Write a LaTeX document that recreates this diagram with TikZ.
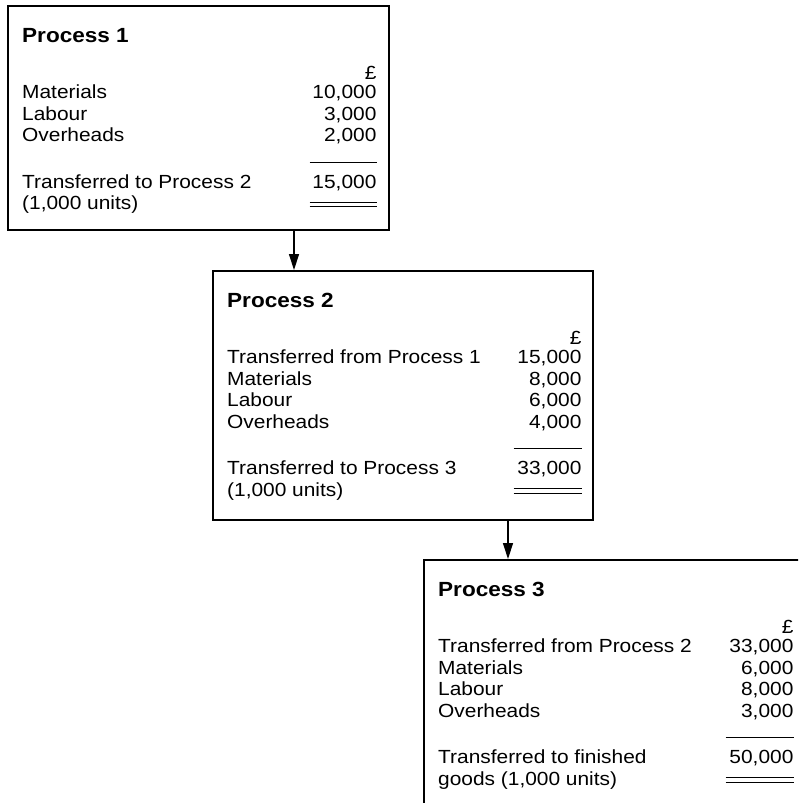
\documentclass[tikz,border=0pt]{standalone}
\usepackage{fontspec}
\setmainfont[FakeStretch=1.1]{Liberation Sans}
\usetikzlibrary{arrows.meta,calc}

\tikzset{
  procbox/.style={draw, line width=1.6pt, anchor=north west, inner sep=0pt},
  item/.style={anchor=base west, inner sep=0pt, font=\fontsize{19}{21}\selectfont},
  head/.style={item, font=\fontsize{20.5}{23}\selectfont\bfseries},
  amt/.style={anchor=base east, inner sep=0pt, font=\fontsize{19}{21}\selectfont},
  sumline/.style={line width=1pt},
  flow/.style={line width=1.3pt, -{Triangle[length=16pt,width=10pt]}}
}

\begin{document}
\begin{tikzpicture}[x=1pt, y=-1pt]
  \clip (0,0) rectangle (798,803);

  % Process 1
  \node[procbox, minimum width=381pt, minimum height=224pt] (p1) at (7,5) {};
  \node[head] (p1t) at ($(p1.north west)+(15,37)$) {Process 1};
  \node[amt] (p1c) at ($(p1.north east)+(-13,74)$) {£};
  \foreach \lab/\val [count=\i] in {Materials/{10,000}, Labour/{3,000}, Overheads/{2,000}} {
    \node[item] (p1r\i) at ($(p1.north west)+(15,72+21.5*\i)$) {\lab};
    \node[amt] (p1v\i) at ($(p1.north east)+(-13,72+21.5*\i)$) {\val};
  }
  \draw[sumline] ($(p1.north east)+(-80,157)$) -- ++(67,0);
  \node[item] (p1o) at ($(p1.north west)+(15,183)$) {Transferred to Process 2};
  \node[amt] (p1s) at ($(p1.north east)+(-13,183)$) {15,000};
  \node[item] (p1u) at ($(p1.north west)+(15,204.5)$) {(1,000 units)};
  \draw[sumline] ($(p1.north east)+(-80,197)$) -- ++(67,0);
  \draw[sumline] ($(p1.north east)+(-80,201.5)$) -- ++(67,0);

  % Process 2
  \node[procbox, minimum width=380pt, minimum height=249pt] (p2) at (212,270) {};
  \node[head] (p2t) at ($(p2.north west)+(15,37)$) {Process 2};
  \node[amt] (p2c) at ($(p2.north east)+(-12,74)$) {£};
  \foreach \lab/\val [count=\i] in {Transferred from Process 1/{15,000}, Materials/{8,000}, Labour/{6,000}, Overheads/{4,000}} {
    \node[item] (p2r\i) at ($(p2.north west)+(15,72+21.5*\i)$) {\lab};
    \node[amt] (p2v\i) at ($(p2.north east)+(-12,72+21.5*\i)$) {\val};
  }
  \draw[sumline] ($(p2.north east)+(-80,178.5)$) -- ++(68,0);
  \node[item] (p2o) at ($(p2.north west)+(15,204.5)$) {Transferred to Process 3};
  \node[amt] (p2s) at ($(p2.north east)+(-12,204.5)$) {33,000};
  \node[item] (p2u) at ($(p2.north west)+(15,226)$) {(1,000 units)};
  \draw[sumline] ($(p2.north east)+(-80,218.5)$) -- ++(68,0);
  \draw[sumline] ($(p2.north east)+(-80,223)$) -- ++(68,0);

  % Process 3 (runs off the page)
  \node[procbox, minimum width=381pt, minimum height=262pt] (p3) at (423,559) {};
  \node[head] (p3t) at ($(p3.north west)+(15,37)$) {Process 3};
  \node[amt] (p3c) at ($(p3.north east)+(-12,74)$) {£};
  \foreach \lab/\val [count=\i] in {Transferred from Process 2/{33,000}, Materials/{6,000}, Labour/{8,000}, Overheads/{3,000}} {
    \node[item] (p3r\i) at ($(p3.north west)+(15,72+21.5*\i)$) {\lab};
    \node[amt] (p3v\i) at ($(p3.north east)+(-12,72+21.5*\i)$) {\val};
  }
  \draw[sumline] ($(p3.north east)+(-80,178.5)$) -- ++(68,0);
  \node[item] (p3o) at ($(p3.north west)+(15,204.5)$) {Transferred to finished};
  \node[amt] (p3s) at ($(p3.north east)+(-12,204.5)$) {50,000};
  \node[item] (p3u) at ($(p3.north west)+(15,226)$) {goods (1,000 units)};
  \draw[sumline] ($(p3.north east)+(-80,218.5)$) -- ++(68,0);
  \draw[sumline] ($(p3.north east)+(-80,223)$) -- ++(68,0);

  % Flow arrows
  \coordinate (a1) at ($(p2.north west)+(82,0)$);
  \coordinate (a2) at ($(p3.north west)+(85,0)$);
  \draw[flow] (p1.south -| a1) -- (a1);
  \draw[flow] (p2.south -| a2) -- (a2);
\end{tikzpicture}
\end{document}
